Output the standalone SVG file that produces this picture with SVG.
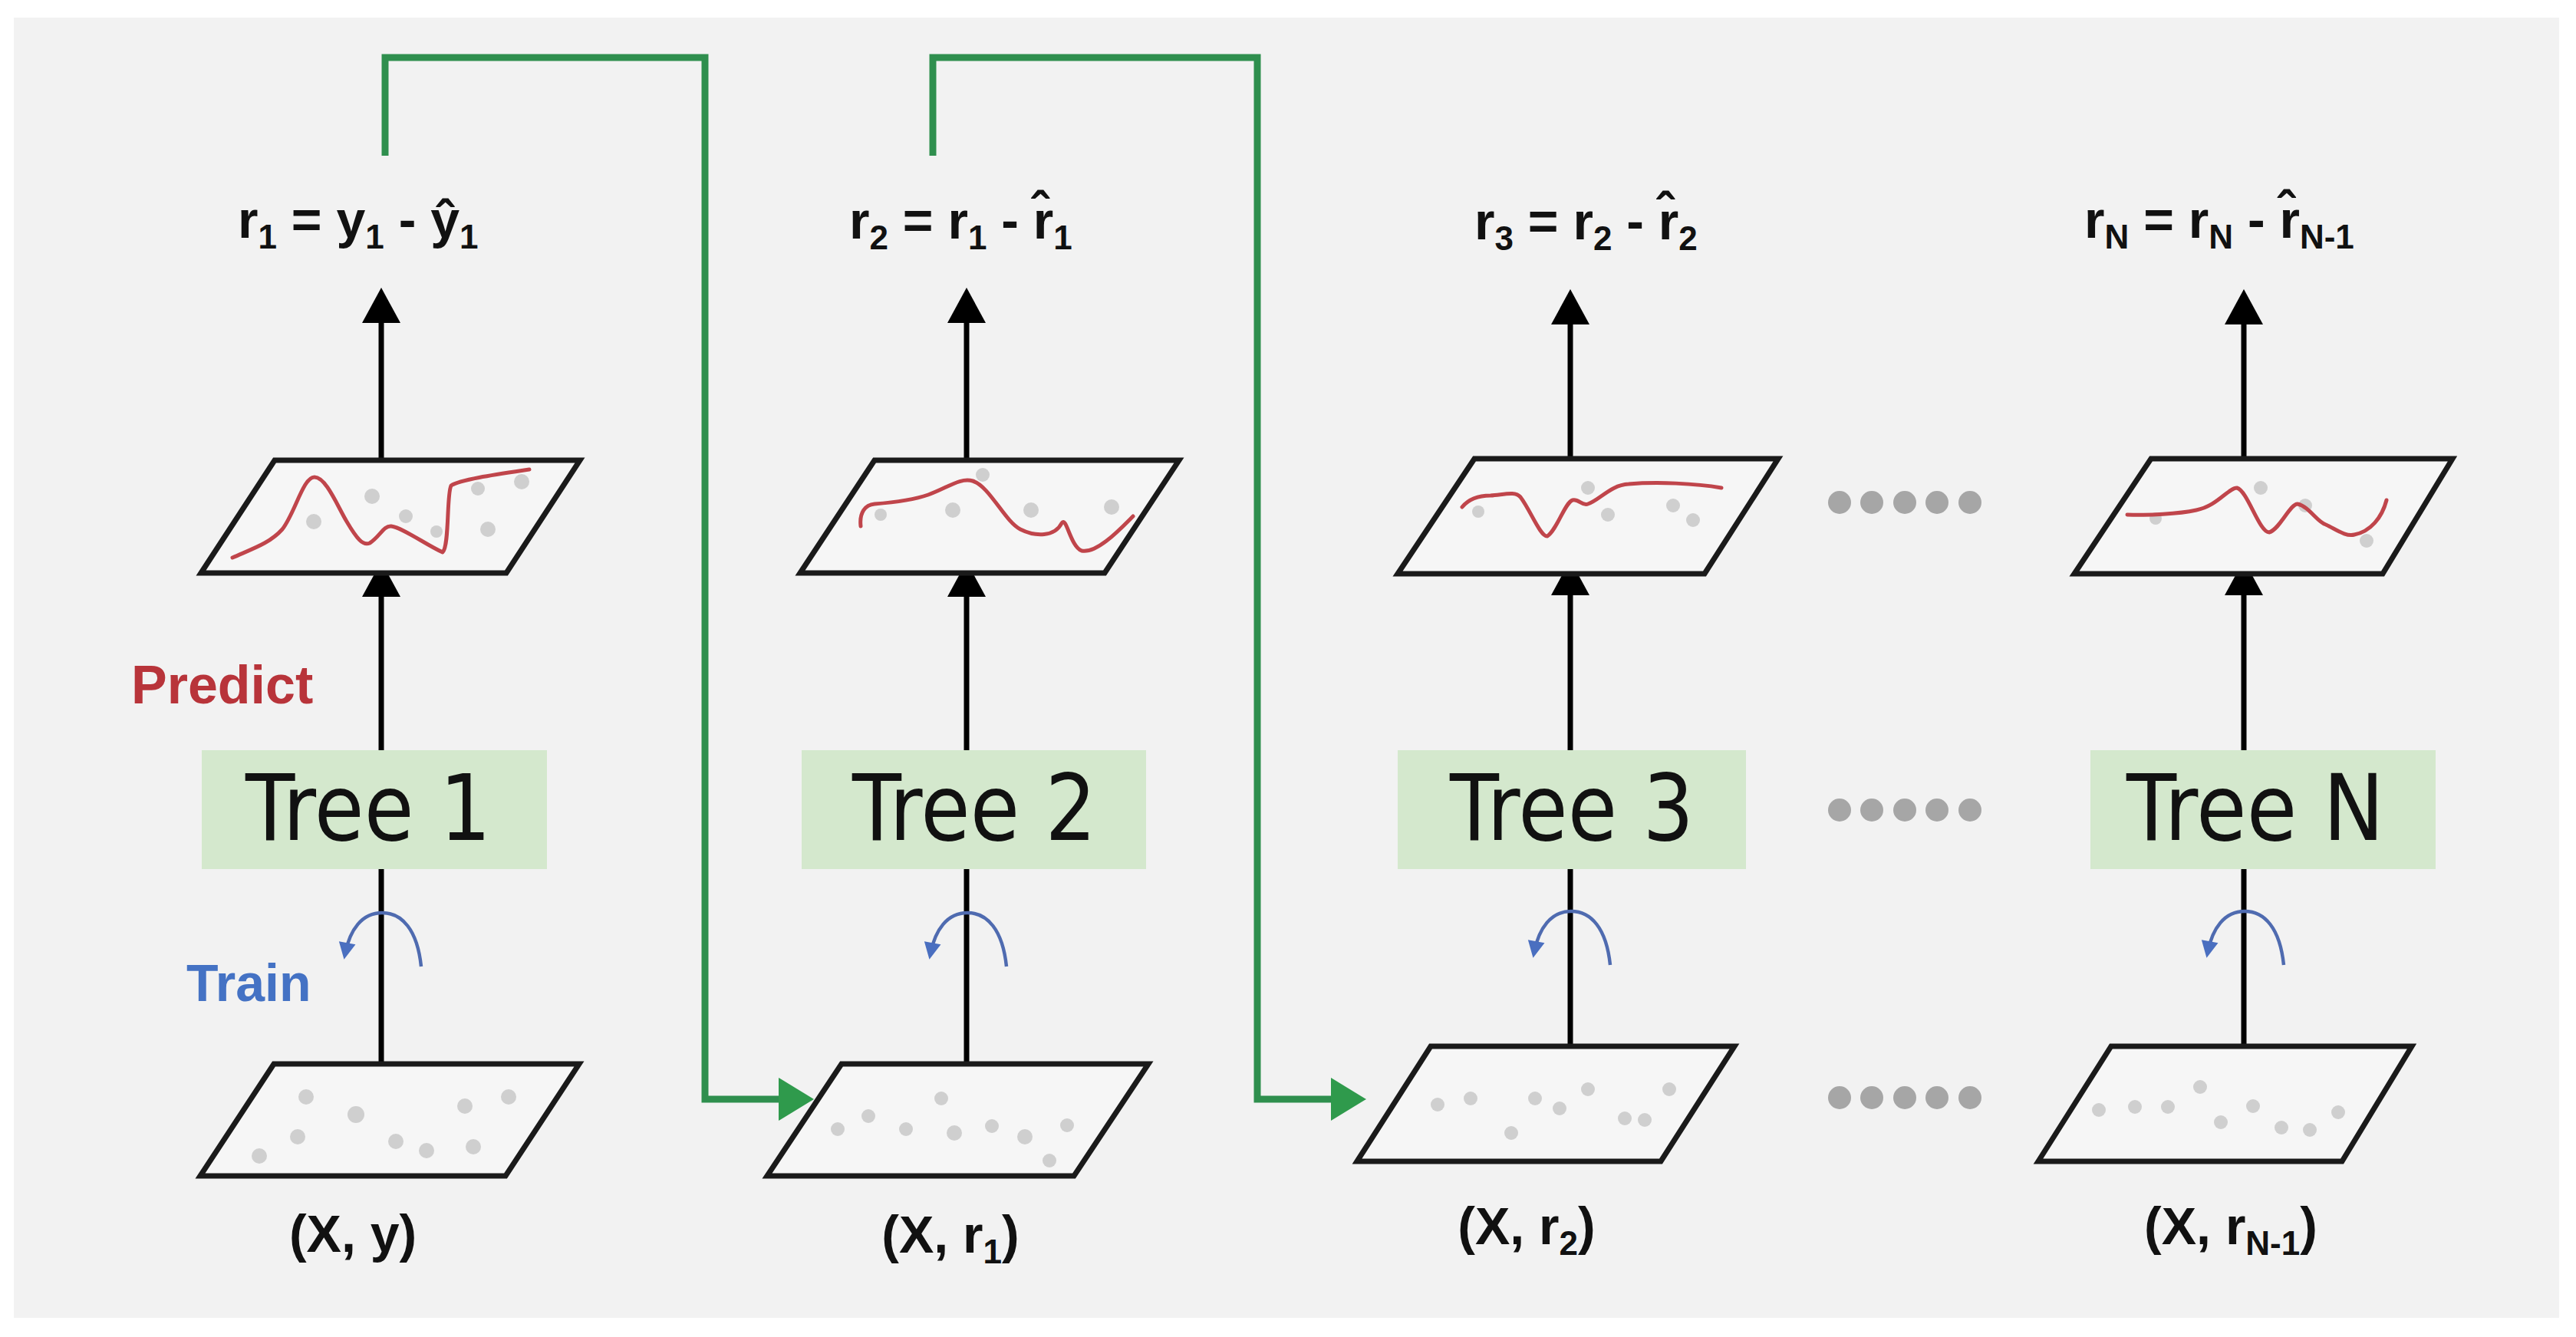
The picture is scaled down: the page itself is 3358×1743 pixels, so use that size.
<svg xmlns="http://www.w3.org/2000/svg" width="3358" height="1743" viewBox="0 0 3358 1743">
<defs>
<style>
.frm{font-family:"Liberation Sans",Arial,sans-serif;font-weight:bold;font-size:68px;fill:#111}
.sub{font-size:44px}
.tree{font-family:"DejaVu Sans",Verdana,sans-serif;font-size:120px;fill:#111;text-anchor:middle}
.box{fill:#d4e8cd}
.para{fill:#f6f6f6;stroke:#1a1a1a;stroke-width:7;stroke-linejoin:miter}
.dot{fill:#cfcfcf}
.curve{fill:none;stroke:#c0454b;stroke-width:5;stroke-linejoin:round;stroke-linecap:round}
.blk{fill:none;stroke:#000;stroke-width:7}
.grn{fill:none;stroke:#2f8f4e;stroke-width:9}
.trn{fill:none;stroke:#4f6bb0;stroke-width:4.5}
.ell{fill:#a6a6a6}
</style>
<marker id="ab" markerUnits="userSpaceOnUse" markerWidth="70" markerHeight="70" viewBox="-50 -35 70 70" refX="0" refY="0" orient="auto">
<path d="M10 0 L-36 -25 L-36 25 Z" fill="#000"/>
</marker>
<marker id="ag" markerUnits="userSpaceOnUse" markerWidth="70" markerHeight="70" viewBox="-50 -35 70 70" refX="0" refY="0" orient="auto">
<path d="M10 0 L-36 -28 L-36 28 Z" fill="#2f9a4c"/>
</marker>
<marker id="at" markerUnits="userSpaceOnUse" markerWidth="40" markerHeight="40" viewBox="-20 -20 40 40" refX="0" refY="0" orient="auto">
<path d="M8 0 L-14 -11 L-14 11 Z" fill="#4a6fc0"/>
</marker>
</defs>

<rect x="0" y="0" width="3358" height="1743" fill="#ffffff"/>
<rect x="18" y="23" width="3318" height="1695" fill="#f2f2f2"/>

<g id="connectors">
  <line class="blk" x1="497" y1="600" x2="497" y2="385" marker-end="url(#ab)"/>
  <line class="blk" x1="497" y1="978" x2="497" y2="742" marker-end="url(#ab)"/>
  <line class="blk" x1="497" y1="1387" x2="497" y2="1133"/>
  <line class="blk" x1="1260" y1="600" x2="1260" y2="385" marker-end="url(#ab)"/>
  <line class="blk" x1="1260" y1="978" x2="1260" y2="742" marker-end="url(#ab)"/>
  <line class="blk" x1="1260" y1="1387" x2="1260" y2="1133"/>
  <line class="blk" x1="2047" y1="598" x2="2047" y2="387" marker-end="url(#ab)"/>
  <line class="blk" x1="2047" y1="978" x2="2047" y2="740" marker-end="url(#ab)"/>
  <line class="blk" x1="2047" y1="1364" x2="2047" y2="1133"/>
  <line class="blk" x1="2925" y1="598" x2="2925" y2="387" marker-end="url(#ab)"/>
  <line class="blk" x1="2925" y1="978" x2="2925" y2="740" marker-end="url(#ab)"/>
  <line class="blk" x1="2925" y1="1364" x2="2925" y2="1133"/>
  <path class="grn" d="M502 203 V75 H919 V1433 H1051" marker-end="url(#ag)"/>
  <path class="grn" d="M1216 203 V75 H1639 V1433 H1771" marker-end="url(#ag)"/>
  <path class="trn" d="M549 1260 C544 1212 524 1190 498 1190 C472 1190 456 1212 450 1243" marker-end="url(#at)"/>
  <path class="trn" d="M1312 1260 C1307 1212 1287 1190 1261 1190 C1235 1190 1219 1212 1213 1243" marker-end="url(#at)"/>
  <path class="trn" d="M2099 1258 C2094 1210 2074 1188 2048 1188 C2022 1188 2006 1210 2000 1241" marker-end="url(#at)"/>
  <path class="trn" d="M2977 1258 C2972 1210 2952 1188 2926 1188 C2900 1188 2884 1210 2878 1241" marker-end="url(#at)"/>
</g>

<g id="label-train-predict">
  <text x="171" y="917" font-family="Liberation Sans, Arial, sans-serif" font-weight="bold" font-size="70" fill="#b8343a">Predict</text>
  <text x="243" y="1305" font-family="Liberation Sans, Arial, sans-serif" font-weight="bold" font-size="68" fill="#4472c4">Train</text>
</g>

<g id="residual-1">
  <text class="frm" x="310" y="310">r<tspan class="sub" dy="14">1</tspan><tspan dy="-14"> = y</tspan><tspan class="sub" dy="14">1</tspan><tspan dy="-14"> - ŷ</tspan><tspan class="sub" dy="14">1</tspan></text>
</g>
<g id="pred-1">
  <polygon class="para" points="262,747 358,600 756,600 660,747"/>
  <circle class="dot" cx="409" cy="680" r="10"/><circle class="dot" cx="485" cy="647" r="10"/><circle class="dot" cx="529" cy="673" r="9"/><circle class="dot" cx="636" cy="690" r="10"/><circle class="dot" cx="680" cy="628" r="10"/><circle class="dot" cx="623" cy="637" r="9"/><circle class="dot" cx="569" cy="693" r="8"/>
  <path class="curve" d="M303 727 C330 715 352 708 368 690 C385 668 395 622 410 622 C425 622 440 660 452 680 C465 702 473 712 482 708 C495 700 500 685 510 686 C525 688 555 710 577 720 C586 712 582 645 588 633 C600 625 650 618 690 612"/>
</g>
<g id="tree-1">
  <rect class="box" x="263" y="978" width="450" height="155"/>
  <text class="tree" x="480" y="1095" textLength="320" lengthAdjust="spacingAndGlyphs">Tree 1</text>
</g>
<g id="data-1">
  <polygon class="para" points="261,1533 357,1387 755,1387 659,1533"/>
  <circle class="dot" cx="399" cy="1430" r="10"/><circle class="dot" cx="464" cy="1453" r="11"/><circle class="dot" cx="388" cy="1482" r="10"/><circle class="dot" cx="338" cy="1507" r="10"/><circle class="dot" cx="516" cy="1488" r="10"/><circle class="dot" cx="556" cy="1500" r="10"/><circle class="dot" cx="606" cy="1442" r="10"/><circle class="dot" cx="663" cy="1430" r="10"/><circle class="dot" cx="617" cy="1495" r="10"/>
  <text class="frm" x="460" y="1632" text-anchor="middle" font-size="66">(X, y)</text>
</g>

<g id="residual-2">
  <text class="frm" x="1107" y="311">r<tspan class="sub" dy="14">2</tspan><tspan dy="-14"> = r</tspan><tspan class="sub" dy="14">1</tspan><tspan dy="-14"> - r̂</tspan><tspan class="sub" dy="14">1</tspan></text>
</g>
<g id="pred-2">
  <polygon class="para" points="1043,747 1140,600 1537,600 1440,747"/>
  <circle class="dot" cx="1281" cy="619" r="9"/><circle class="dot" cx="1242" cy="665" r="10"/><circle class="dot" cx="1344" cy="665" r="10"/><circle class="dot" cx="1449" cy="661" r="10"/><circle class="dot" cx="1148" cy="671" r="8"/>
  <path class="curve" d="M1122 686 C1120 668 1128 658 1140 657 C1165 655 1190 652 1210 645 C1235 636 1252 622 1268 627 C1290 634 1310 680 1330 690 C1350 700 1375 700 1384 682 C1390 672 1395 712 1410 718 C1430 722 1460 690 1477 673"/>
</g>
<g id="tree-2">
  <rect class="box" x="1045" y="978" width="449" height="155"/>
  <text class="tree" x="1270" y="1095" textLength="318" lengthAdjust="spacingAndGlyphs">Tree 2</text>
</g>
<g id="data-2">
  <polygon class="para" points="1000,1533 1097,1387 1497,1387 1400,1533"/>
  <circle class="dot" cx="1227" cy="1432" r="9"/><circle class="dot" cx="1132" cy="1455" r="9"/><circle class="dot" cx="1092" cy="1472" r="9"/><circle class="dot" cx="1181" cy="1472" r="9"/><circle class="dot" cx="1244" cy="1477" r="10"/><circle class="dot" cx="1293" cy="1468" r="9"/><circle class="dot" cx="1336" cy="1482" r="10"/><circle class="dot" cx="1391" cy="1467" r="9"/><circle class="dot" cx="1368" cy="1513" r="9"/>
  <text class="frm" x="1239" y="1633" text-anchor="middle" font-size="66">(X, r<tspan class="sub" dy="14">1</tspan><tspan dy="-14">)</tspan></text>
</g>

<g id="residual-3">
  <text class="frm" x="1922" y="312">r<tspan class="sub" dy="14">3</tspan><tspan dy="-14"> = r</tspan><tspan class="sub" dy="14">2</tspan><tspan dy="-14"> - r̂</tspan><tspan class="sub" dy="14">2</tspan></text>
</g>
<g id="pred-3">
  <polygon class="para" points="1822,748 1922,598 2318,598 2222,748"/>
  <circle class="dot" cx="2070" cy="636" r="9"/><circle class="dot" cx="2096" cy="671" r="9"/><circle class="dot" cx="2181" cy="659" r="9"/><circle class="dot" cx="2207" cy="678" r="9"/><circle class="dot" cx="1927" cy="667" r="8"/>
  <path class="curve" d="M1906 661 C1915 650 1928 646 1943 646 C1960 645 1975 640 1982 648 C1995 665 2008 700 2017 699 C2030 690 2040 655 2050 652 C2058 650 2062 660 2070 657 C2085 652 2100 632 2123 631 C2160 628 2210 630 2244 636"/>
</g>
<g id="tree-3">
  <rect class="box" x="1822" y="978" width="454" height="155"/>
  <text class="tree" x="2049" y="1095" textLength="318" lengthAdjust="spacingAndGlyphs">Tree 3</text>
</g>
<g id="data-3">
  <polygon class="para" points="1769,1514 1865,1364 2261,1364 2165,1514"/>
  <circle class="dot" cx="1874" cy="1440" r="9"/><circle class="dot" cx="1917" cy="1432" r="9"/><circle class="dot" cx="1970" cy="1477" r="9"/><circle class="dot" cx="2001" cy="1432" r="9"/><circle class="dot" cx="2033" cy="1445" r="9"/><circle class="dot" cx="2070" cy="1420" r="9"/><circle class="dot" cx="2118" cy="1458" r="9"/><circle class="dot" cx="2144" cy="1460" r="9"/><circle class="dot" cx="2176" cy="1420" r="9"/>
  <text class="frm" x="1990" y="1622" text-anchor="middle" font-size="66">(X, r<tspan class="sub" dy="14">2</tspan><tspan dy="-14">)</tspan></text>
</g>

<g id="residual-n">
  <text class="frm" x="2717" y="310">r<tspan class="sub" dy="14">N</tspan><tspan dy="-14"> = r</tspan><tspan class="sub" dy="14">N</tspan><tspan dy="-14"> - r̂</tspan><tspan class="sub" dy="14">N-1</tspan></text>
</g>
<g id="pred-n">
  <polygon class="para" points="2704,748 2804,598 3197,598 3106,748"/>
  <circle class="dot" cx="2947" cy="636" r="9"/><circle class="dot" cx="3005" cy="659" r="9"/><circle class="dot" cx="3085" cy="705" r="9"/><circle class="dot" cx="2810" cy="676" r="8"/>
  <path class="curve" d="M2773 671 C2800 672 2840 670 2863 665 C2890 660 2905 636 2916 636 C2930 640 2945 694 2958 694 C2972 690 2985 657 2995 657 C3010 660 3020 680 3032 684 C3045 690 3058 700 3069 697 C3090 693 3105 675 3111 652"/>
</g>
<g id="tree-n">
  <rect class="box" x="2725" y="978" width="450" height="155"/>
  <text class="tree" x="2940" y="1095" textLength="336" lengthAdjust="spacingAndGlyphs">Tree N</text>
</g>
<g id="data-n">
  <polygon class="para" points="2657,1514 2752,1364 3144,1364 3053,1514"/>
  <circle class="dot" cx="2736" cy="1447" r="9"/><circle class="dot" cx="2783" cy="1443" r="9"/><circle class="dot" cx="2826" cy="1443" r="9"/><circle class="dot" cx="2868" cy="1417" r="9"/><circle class="dot" cx="2895" cy="1463" r="9"/><circle class="dot" cx="2937" cy="1442" r="9"/><circle class="dot" cx="2974" cy="1470" r="9"/><circle class="dot" cx="3011" cy="1473" r="9"/><circle class="dot" cx="3048" cy="1450" r="9"/>
  <text class="frm" x="2908" y="1622" text-anchor="middle" font-size="66">(X, r<tspan class="sub" dy="14">N-1</tspan><tspan dy="-14">)</tspan></text>
</g>

<g id="ellipsis">
  <circle class="ell" cx="2398" cy="655" r="15"/><circle class="ell" cx="2440" cy="655" r="15"/><circle class="ell" cx="2483" cy="655" r="15"/><circle class="ell" cx="2525" cy="655" r="15"/><circle class="ell" cx="2568" cy="655" r="15"/>
  <circle class="ell" cx="2398" cy="1056" r="15"/><circle class="ell" cx="2440" cy="1056" r="15"/><circle class="ell" cx="2483" cy="1056" r="15"/><circle class="ell" cx="2525" cy="1056" r="15"/><circle class="ell" cx="2568" cy="1056" r="15"/>
  <circle class="ell" cx="2398" cy="1431" r="15"/><circle class="ell" cx="2440" cy="1431" r="15"/><circle class="ell" cx="2483" cy="1431" r="15"/><circle class="ell" cx="2525" cy="1431" r="15"/><circle class="ell" cx="2568" cy="1431" r="15"/>
</g>
</svg>
